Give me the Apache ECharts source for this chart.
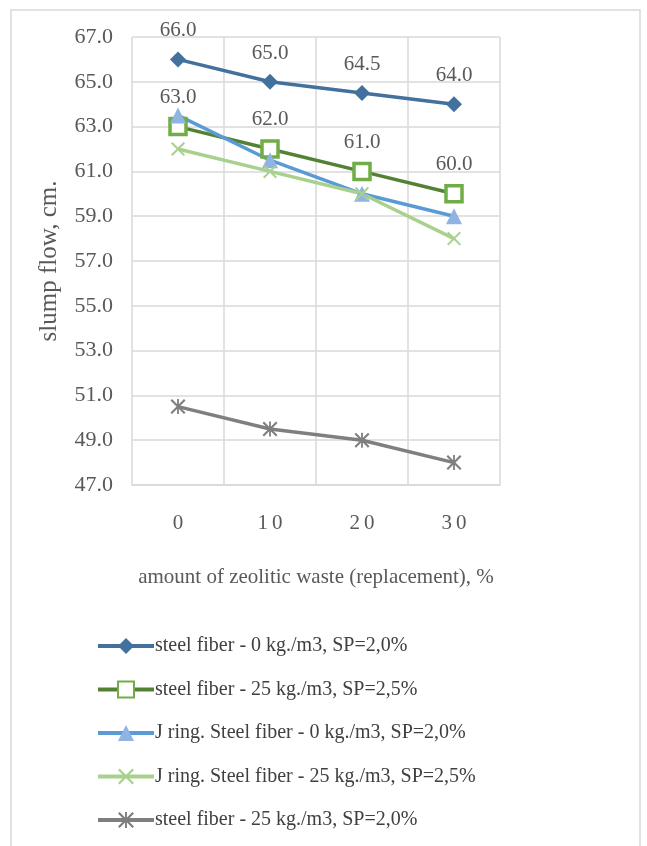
<!DOCTYPE html>
<html><head><meta charset="utf-8">
<script src="https://cdn.jsdelivr.net/npm/echarts@6/dist/echarts.min.js"></script>
<style>html,body{margin:0;padding:0;background:#fff}#c{width:647px;height:846px}</style>
</head><body><div id="c"></div>
<script>
const categories = ['0', '10', '20', '30'];
const yTicks = {min: 47, max: 67, interval: 2};
const names = [
  'steel fiber - 0 kg./m3, SP=2,0%',
  'steel fiber - 25 kg./m3, SP=2,5%',
  'J ring. Steel fiber - 0 kg./m3, SP=2,0%',
  'J ring. Steel fiber - 25 kg./m3, SP=2,5%',
  'steel fiber - 25 kg./m3, SP=2,0%'
];
const sf0_sp20 = [66.0, 65.0, 64.5, 64.0];
const sf25_sp25 = [63.0, 62.0, 61.0, 60.0];
const jr0_sp20 = [63.5, 61.5, 60.0, 59.0];
const jr25_sp25 = [62.0, 61.0, 60.0, 58.0];
const sf25_sp20 = [50.5, 49.5, 49.0, 48.0];

const FONT = '"Liberation Serif", "Times New Roman", serif';
const xPath = 'path://M1,0 L5,4 L9,0 L10,1 L6,5 L10,9 L9,10 L5,6 L1,10 L0,9 L4,5 L0,1 Z';
const starPath = 'path://M1,0 L5,4 L9,0 L10,1 L6,5 L10,9 L9,10 L5,6 L1,10 L0,9 L4,5 L0,1 Z M4.4,0 L5.6,0 L5.6,10 L4.4,10 Z';

const labelStyle = (d) => ({show: true, position: 'top', distance: d, color: '#595959', fontFamily: FONT, fontSize: 21, formatter: p => p.value.toFixed(1)});

const chart = echarts.init(document.getElementById('c'), null, {renderer: 'canvas'});
chart.setOption({
  animation: false,
  backgroundColor: '#fff',
  graphic: [{type: 'rect', shape: {x: 11, y: 10, width: 629, height: 850}, style: {fill: 'none', stroke: '#D9D9D9', lineWidth: 1.5}, z: -10}],
  grid: {left: 132, right: 147, top: 37, bottom: 361, containLabel: false},
  xAxis: {
    type: 'category', data: categories, boundaryGap: true,
    name: 'amount of zeolitic waste (replacement), %', nameLocation: 'middle', nameGap: 82,
    nameTextStyle: {fontFamily: FONT, fontSize: 21, color: '#595959'},
    axisLine: {lineStyle: {color: '#D9D9D9', width: 1.5}},
    axisTick: {show: false},
    axisLabel: {fontFamily: FONT, fontSize: 21, color: '#595959', margin: 28, formatter: v => v.split('').join('\u2009')},
    splitLine: {show: true, lineStyle: {color: '#D9D9D9', width: 1.5}}
  },
  yAxis: {
    type: 'value', min: yTicks.min, max: yTicks.max, interval: yTicks.interval,
    name: 'slump flow, cm.', nameLocation: 'middle', nameGap: 70,
    nameTextStyle: {fontFamily: FONT, fontSize: 25, color: '#595959'},
    axisLine: {show: false}, axisTick: {show: false},
    axisLabel: {fontFamily: FONT, fontSize: 22, color: '#595959', margin: 19, formatter: v => v.toFixed(1)},
    splitLine: {lineStyle: {color: '#D9D9D9', width: 1.5}}
  },
  legend: {
    orient: 'vertical', left: 91, top: 631, height: 215, itemWidth: 56, itemHeight: 20, itemGap: 23.5,
    lineStyle: {width: 4},
    textStyle: {fontFamily: FONT, fontSize: 20, color: '#404040', padding: [0, 0, 0, -4]},
    data: names
  },
  series: [
    {name: names[0], type: 'line', data: sf0_sp20, symbol: 'diamond', symbolSize: 16,
     lineStyle: {color: '#41719C', width: 3.5}, itemStyle: {color: '#41719C'}, label: labelStyle(10)},
    {name: names[1], type: 'line', data: sf25_sp25, symbol: 'rect', symbolSize: 16,
     lineStyle: {color: '#548235', width: 3.5}, itemStyle: {color: '#fff', borderColor: '#70AD47', borderWidth: 3.5}, label: labelStyle(9)},
    {name: names[2], type: 'line', data: jr0_sp20, symbol: 'triangle', symbolSize: 16,
     lineStyle: {color: '#5B9BD5', width: 3.5}, itemStyle: {color: '#8FB4E3'}},
    {name: names[3], type: 'line', data: jr25_sp25, symbol: xPath, symbolSize: 14,
     lineStyle: {color: '#A9D18E', width: 3.5}, itemStyle: {color: '#A9D18E'}},
    {name: names[4], type: 'line', data: sf25_sp20, symbol: starPath, symbolSize: 15,
     lineStyle: {color: '#7F7F7F', width: 3.5}, itemStyle: {color: '#7F7F7F'}}
  ]
});
</script></body></html>
